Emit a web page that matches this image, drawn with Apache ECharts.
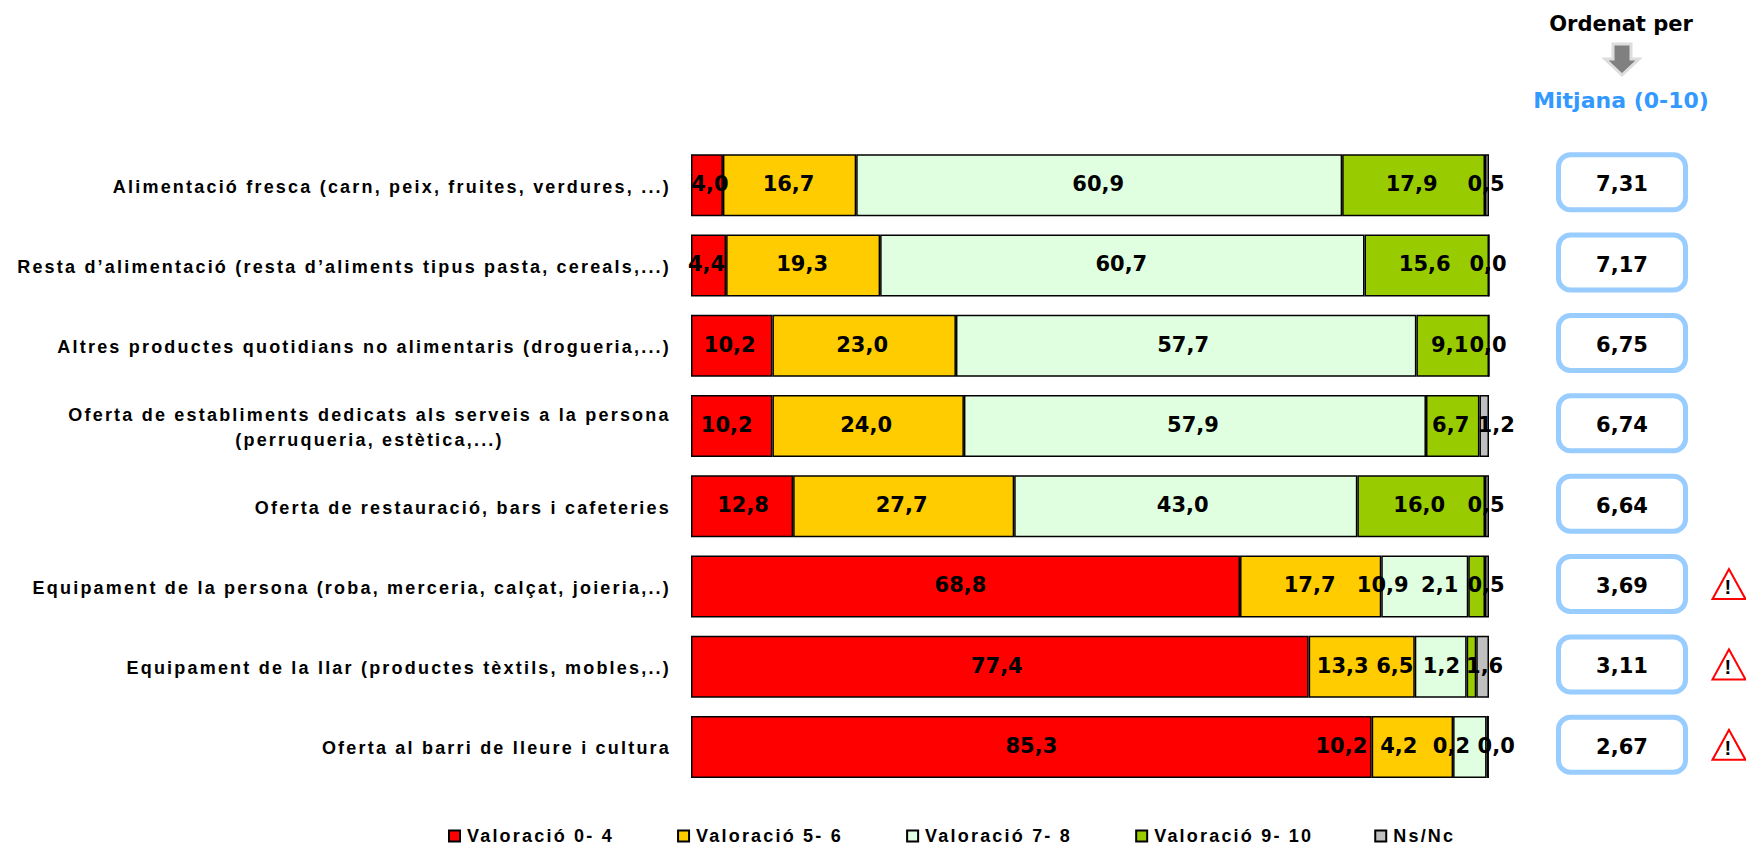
<!DOCTYPE html>
<html>
<head>
<meta charset="UTF-8">
<title></title>
<script src="https://cdn.jsdelivr.net/npm/echarts@6/dist/echarts.min.js"></script>
<style>
	html,body{margin:0;padding:0;background:#fff;}
	#chart{width:1746px;height:845px;}
	/* espaiat de les etiquetes en Arial de l'original */
	#chart svg text[style*="Liberation"]{letter-spacing:2.2px;}
</style>
</head>
<body>
<div id="chart"></div>
<script type="text/javascript">
var categories = [
	"Alimentació fresca (carn, peix, fruites, verdures, ...)",
	"Resta d’alimentació (resta d’aliments tipus pasta, cereals,...)",
	"Altres productes quotidians no alimentaris (drogueria,...)",
	"Oferta de establiments dedicats als serveis a la persona\n(perruqueria, estètica,...)",
	"Oferta de restauració, bars i cafeteries",
	"Equipament de la persona (roba, merceria, calçat, joieria,..)",
	"Equipament de la llar (productes tèxtils, mobles,..)",
	"Oferta al barri de lleure i cultura"
];
var val04 = [4.0, 4.4, 10.2, 10.2, 12.8, 68.8, 77.4, 85.3];
var val56 = [16.7, 19.3, 23.0, 24.0, 27.7, 17.7, 13.3, 10.2];
var val78 = [60.9, 60.7, 57.7, 57.9, 43.0, 10.9, 6.5, 4.2];
var val910 = [17.9, 15.6, 9.1, 6.7, 16.0, 2.1, 1.2, 0.2];
var nsnc = [0.5, 0.0, 0.0, 1.2, 0.5, 0.5, 1.6, 0.0];
var mitjana = [7.31, 7.17, 6.75, 6.74, 6.64, 3.69, 3.11, 2.67];
var avisos = [5, 6, 7]; // files amb triangle d'avis

// desplaçament horitzontal de les etiquetes, l'original no les centra
var despl04 = [3, -2, -2, -5, 1, -5, -3, 0];
var despl56 = [-1, -1, -2, -2, -2, -1, -19, -71];
var despl78 = [-1, -1, -3, -2, -3, -42, -46, -71];
var despl910 = [-2, -2, -3, -2, -2, -37, -30, -36];
var desplNs = [-1, -1, -1, 12, -1, -1, 2, 8];

function fix(v, d){
	return v.toFixed(d).replace(".", ",");
}
function serie(nom, valors, color, offs){
	var dades = [];
	for(var i = 0; i < valors.length; i++){
		dades.push({value: valors[i], label: {offset: [offs[i], -1]}});
	}
	return {
		name: nom,
		type: "bar",
		stack: "total",
		barWidth: 62,
		data: dades,
		itemStyle: {color: color, borderColor: "#000", borderWidth: 1.5},
		label: {
			show: true,
			position: "inside",
			color: "#000",
			fontFamily: "DejaVu Sans",
			fontWeight: "bold",
			fontSize: 21,
			formatter: function(p){ return fix(p.value, 1); }
		},
		z: 2
	};
}

var puntsMitjana = [];
for(var i = 0; i < mitjana.length; i++){
	puntsMitjana.push([0.5, i, mitjana[i]]);
}
var puntsAvis = [];
for(var j = 0; j < avisos.length; j++){
	puntsAvis.push([0.9385, avisos[j]]);
}

var myChart = echarts.init(document.getElementById("chart"), null, {renderer: "svg"});
myChart.setOption({
	animation: false,
	backgroundColor: "#fff",
	legend: {
		left: 443,
		top: 822,
		itemWidth: 11,
		itemHeight: 11,
		itemGap: 94,
		icon: "rect",
		selectedMode: false,
		textStyle: {fontFamily: "Liberation Sans", fontWeight: "bold", fontSize: 18, color: "#000", padding: [0, 0, 0, 2]},
		data: ["Valoració 0- 4", "Valoració 5- 6", "Valoració 7- 8", "Valoració 9- 10", "Ns/Nc"]
	},
	grid: [
		{left: 691, top: 145, width: 798, height: 642},
		{left: 1500, top: 142, width: 244, height: 643}
	],
	xAxis: [
		{gridIndex: 0, type: "value", min: 0, max: 100, show: false},
		{gridIndex: 1, type: "value", min: 0, max: 1, show: false}
	],
	yAxis: [
		{
			gridIndex: 0,
			type: "category",
			inverse: true,
			data: categories,
			axisLine: {show: false},
			axisTick: {show: false},
			axisLabel: {
				margin: 20,
				color: "#000",
				fontFamily: "Liberation Sans",
				fontWeight: "bold",
				fontSize: 18,
				lineHeight: 25,
				padding: [3, 0, 0, 0],
				formatter: function(v){
					if(v.indexOf("\n") < 0) return v;
					var t = v.split("\n");
					return "{c|" + t[0] + "}\n{c|" + t[1] + "}";
				},
				rich: {
					c: {width: 603, align: "center", color: "#000", fontFamily: "Liberation Sans", fontWeight: "bold", fontSize: 18, lineHeight: 25}
				}
			}
		},
		{gridIndex: 1, type: "category", inverse: true, data: categories, show: false}
	],
	series: [
		serie("Valoració 0- 4", val04, "#FF0000", despl04),
		serie("Valoració 5- 6", val56, "#FFCC00", despl56),
		serie("Valoració 7- 8", val78, "#E0FFE0", despl78),
		serie("Valoració 9- 10", val910, "#99CC00", despl910),
		serie("Ns/Nc", nsnc, "#C0C0C0", desplNs),
		{
			type: "custom",
			xAxisIndex: 1,
			yAxisIndex: 1,
			data: puntsMitjana,
			encode: {x: 0, y: 1},
			renderItem: function(params, api){
				var c = api.coord([api.value(0), api.value(1)]);
				return {
					type: "rect",
					shape: {x: c[0] - 63.5, y: c[1] - 27.5, width: 127, height: 55, r: 12},
					style: {fill: "#fff", stroke: "#99CCFF", lineWidth: 5},
					textContent: {
						style: {text: fix(api.value(2), 2), fill: "#000", font: "bold 21px DejaVu Sans"}
					},
					textConfig: {position: "inside", offset: [0, 2]}
				};
			}
		},
		{
			type: "scatter",
			xAxisIndex: 1,
			yAxisIndex: 1,
			symbol: "triangle",
			symbolSize: [33, 30],
			data: puntsAvis,
			encode: {x: 0, y: 1},
			itemStyle: {color: "#fff", borderColor: "#FF0000", borderWidth: 2, opacity: 1},
			label: {
				show: true,
				position: "inside",
				offset: [0, 3],
				color: "#000",
				fontFamily: "Liberation Sans",
				fontWeight: "bold",
				fontSize: 20,
				formatter: "!"
			}
		}
	],
	graphic: [
		{type: "text", x: 1621, y: 24, style: {text: "Ordenat per", align: "center", verticalAlign: "middle", fill: "#000", font: "bold 21px DejaVu Sans"}},
		{type: "polygon", shape: {points: [[1613, 44], [1631, 44], [1631, 59], [1639, 59], [1622, 75], [1605, 59], [1613, 59]]}, style: {fill: "#808080", stroke: "#DDDDDD", lineWidth: 3}},
		{type: "text", x: 1621, y: 100, style: {text: "Mitjana (0-10)", align: "center", verticalAlign: "middle", fill: "#3399FF", font: "bold 22px DejaVu Sans"}}
	]
});
</script>
</body>
</html>
